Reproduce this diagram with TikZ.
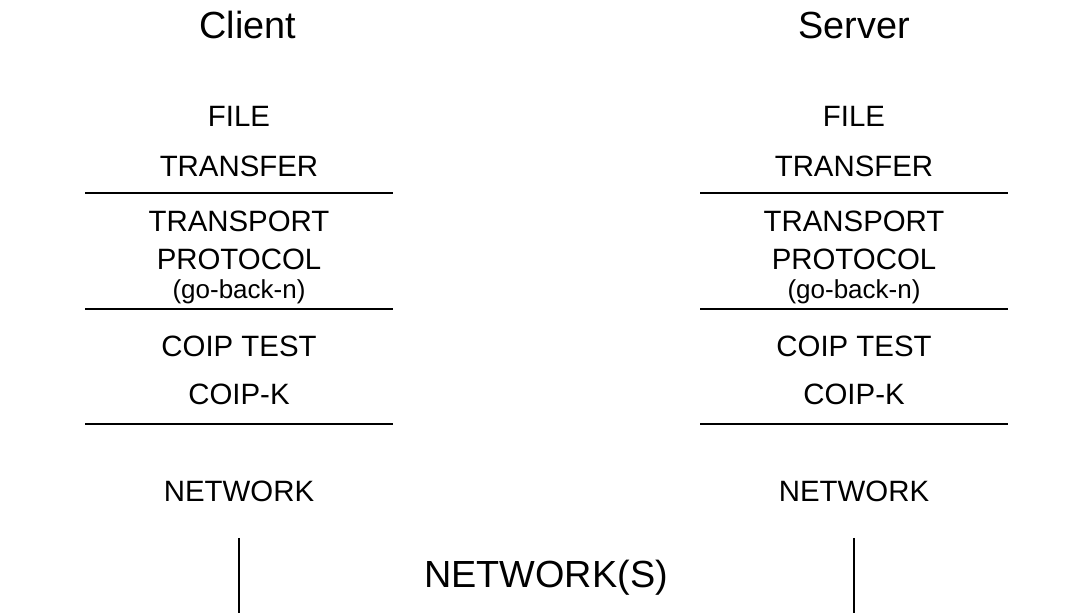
\documentclass[tikz,border=0pt]{standalone}
\usepackage{fontspec}
\setmainfont{Liberation Sans}

\newcommand*{\clx}{239}
\newcommand*{\svx}{854}
\newcommand*{\halfw}{154}

\begin{document}
\begin{tikzpicture}
[
	x=0.5pt,y=-0.5pt,
	layer/.style={anchor=base,inner sep=0pt,font=\fontsize{14.7}{17}\selectfont},
	heading/.style={anchor=base,inner sep=0pt,font=\fontsize{18.9}{22}\selectfont},
	note/.style={anchor=base,inner sep=0pt,font=\fontsize{13}{15}\selectfont},
	sep/.style={line width=1pt}
]
	\useasboundingbox (0,0) rectangle (1076,613);

	% client stack
	\node[heading] (cname) at (\clx+9,39) {Client};
	\node[layer] (cfile) at (\clx,127) {FILE};
	\node[layer] (ctransfer) at (\clx,177) {TRANSFER};
	\draw[sep] (\clx-\halfw,193) -- (\clx+\halfw,193);
	\node[layer] (ctransport) at (\clx,232) {TRANSPORT};
	\node[layer] (cprotocol) at (\clx,270) {PROTOCOL};
	\node[note] (cgbn) at (\clx,299) {(go-back-n)};
	\draw[sep] (\clx-\halfw,309) -- (\clx+\halfw,309);
	\node[layer] (ctest) at (\clx,357) {COIP TEST};
	\node[layer] (ccoipk) at (\clx,405) {COIP-K};
	\draw[sep] (\clx-\halfw,424) -- (\clx+\halfw,424);
	\node[layer] (cnet) at (\clx,502) {NETWORK};

	% server stack
	\node[heading] (sname) at (\svx,39) {Server};
	\node[layer] (sfile) at (\svx,127) {FILE};
	\node[layer] (stransfer) at (\svx,177) {TRANSFER};
	\draw[sep] (\svx-\halfw,193) -- (\svx+\halfw,193);
	\node[layer] (stransport) at (\svx,232) {TRANSPORT};
	\node[layer] (sprotocol) at (\svx,270) {PROTOCOL};
	\node[note] (sgbn) at (\svx,299) {(go-back-n)};
	\draw[sep] (\svx-\halfw,309) -- (\svx+\halfw,309);
	\node[layer] (stest) at (\svx,357) {COIP TEST};
	\node[layer] (scoipk) at (\svx,405) {COIP-K};
	\draw[sep] (\svx-\halfw,424) -- (\svx+\halfw,424);
	\node[layer] (snet) at (\svx,502) {NETWORK};

	% network between
	\draw[sep] (\clx,538) -- (\clx,613);
	\draw[sep] (\svx,538) -- (\svx,613);
	\node[heading] (nets) at (546,588) {NETWORK(S)};

\end{tikzpicture}
\end{document}
